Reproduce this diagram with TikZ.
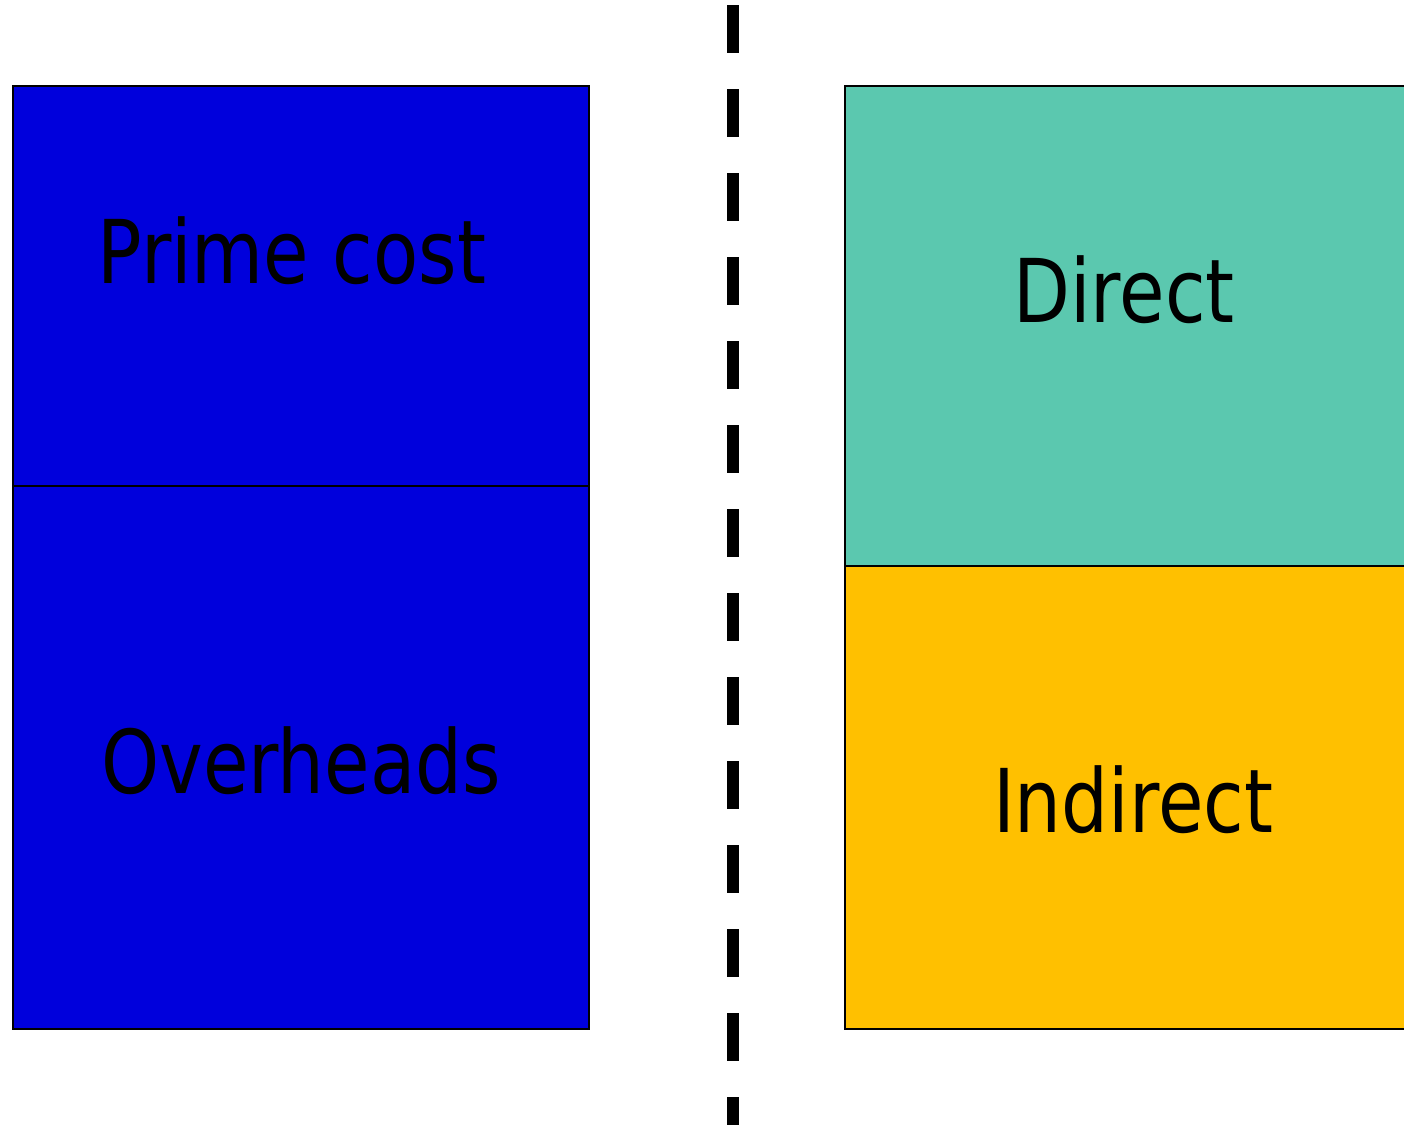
\documentclass[tikz,border=0pt]{standalone}
\usepackage{fontspec}
\setmainfont{DejaVu Sans}
\definecolor{costblue}{HTML}{0000DC}
\definecolor{directteal}{HTML}{5BC8AF}
\definecolor{indirectgold}{HTML}{FFC000}
\begin{document}
\begin{tikzpicture}[x=0.75pt,y=-0.75pt,
  block/.style={draw=black,line width=1.1pt},
  label/.style={font=\fontsize{66}{70}\selectfont,text=black,xscale=0.84,inner sep=0pt,anchor=base}]
\useasboundingbox (0,0) rectangle (1404,1125);
% left column: prime cost over overheads
\path[block,fill=costblue] (13,86) rectangle (589,486);
\path[block,fill=costblue] (13,486) rectangle (589,1029);
% right column: direct over indirect (runs off the right edge)
\path[block,fill=directteal] (845,86) rectangle (1410,566);
\path[block,fill=indirectgold] (845,566) rectangle (1410,1029);
% text
\node[label] (prime) at (292,283) {Prime cost};
\node[label] (over) at (301,793) {Overheads};
\node[label] (direct) at (1124,322) {Direct};
\node[label] (indirect) at (1133,832) {Indirect};
% dividing line
\coordinate (dtop) at (733,5);
\coordinate (dbot) at (733,1135);
\draw[line width=9pt,dash pattern=on 36pt off 27pt] (dtop) -- (dbot);
\end{tikzpicture}
\end{document}
